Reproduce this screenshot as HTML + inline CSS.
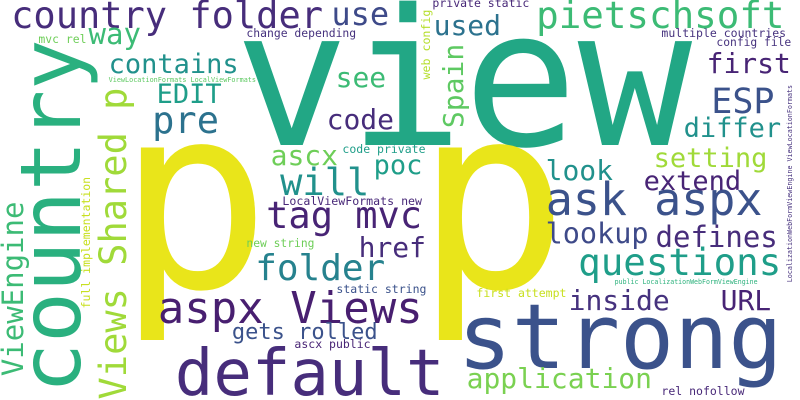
<!DOCTYPE html>
<html><head><meta charset="utf-8"><style>
html,body{margin:0;padding:0;background:#fff;width:800px;height:400px;overflow:hidden}
svg text{font-family:"DejaVu Sans Mono","Liberation Mono",monospace}
</style></head><body>
<svg id="cloud" width="800" height="400" viewBox="0 0 800 400" xmlns="http://www.w3.org/2000/svg">
<rect width="800" height="400" fill="#ffffff"/>
</svg>
<script>
const words = ["view","p","p","country","country folder","use","way","mvc rel","change depending","contains","ViewLocationFormats LocalViewFormats","see","EDIT","Views Shared p","ViewEngine","full implementation","pre","code","Spain","ascx","code private","poc","will","LocalViewFormats new","tag mvc","new string","href","folder","static string","first attempt","aspx Views","gets rolled","ascx public","default","strong","application","rel nofollow","inside","URL","public LocalizationWebFormViewEngine","questions","lookup","defines","ask aspx","LocalizationWebFormViewEngine ViewLocationFormats","look","extend","setting","differ","ESP","first","config file","multiple countries","pietschsoft","used","private static","web config"];
const sizes = [190,255,255,84,37,32,29,11.4,11.4,27,6.8,28,27,37,29,11.5,37,28,28,28,11.5,27,37,11.6,37,11.3,28,36,11.5,11.5,44,22,11.5,64,90,28,11.5,28,28,6.6,37.5,28.5,29,45,6.7,28,27,27,27,35,28,11.3,11.5,37.5,28,11.5,11.6];
const colors = ["#22a785","#e9e51a","#e9e51a","#2ab07f","#472d7b","#3e4a89","#3cbb75","#6ece58","#46327e","#21918c","#5ec962","#3cbb75","#1f9e89","#a0da39","#3cbb75","#c8e020","#2c728e","#472d7b","#5ec962","#6ece58","#1f9e89","#1f9e89","#21918c","#482878","#482475","#6ece58","#472d7b","#26828e","#3b528b","#c8e020","#481f70","#3b528b","#482475","#472d7b","#3b528b","#7ad151","#482878","#46327e","#482475","#2db27d","#1f9e89","#3e4a89","#472d7b","#3b528b","#46327e","#21918c","#482475","#a0da39","#21918c","#3b528b","#482475","#46327e","#46327e","#3cbb75","#2c728e","#482878","#b5de2b"];
const posX = [244,130,428,80,13,333,90,39,247,110,109,337,158,126,23,90,154,328,463,272,343,375,282,283,268,247,360,257,337,477,160,233,295,178,462,468,662,570,722,615,580,547,657,548,792,547,645,655,685,713,708,717,662,538,435,433,430];
const posY = [145,287,287,390,28,25,44,43,37,73,82,87,103,398,375,308,133,129,127,165,153,174,195,205,228,247,257,280,293,297,323,339,348,395,368,388,395,310,310,284,275,243,247,215,282,180,190,167,137,113,73,46,37,28,35,7,79];
const rotated = [0,0,0,1,0,0,0,0,0,0,0,0,0,1,1,1,0,0,1,0,0,0,0,0,0,0,0,0,0,0,0,0,0,0,0,0,0,0,0,0,0,0,0,0,1,0,0,0,0,0,0,0,0,0,0,0,1];
const NS = "http://www.w3.org/2000/svg";
const svg = document.getElementById("cloud");
for (let i = 0; i < words.length; i++) {
  const fs = sizes[i];
  const t = document.createElementNS(NS, "text");
  t.setAttribute("font-size", fs);
  t.setAttribute("fill", colors[i]);
  t.textContent = words[i];
  if (rotated[i]) {
    t.setAttribute("x", -0.04 * fs);
    t.setAttribute("y", 0);
    t.setAttribute("transform", "translate(" + posX[i] + "," + posY[i] + ") rotate(-90)");
  } else {
    t.setAttribute("x", posX[i] - 0.05 * fs);
    t.setAttribute("y", posY[i]);
  }
  
  
  svg.appendChild(t);
}
</script>
</body></html>
